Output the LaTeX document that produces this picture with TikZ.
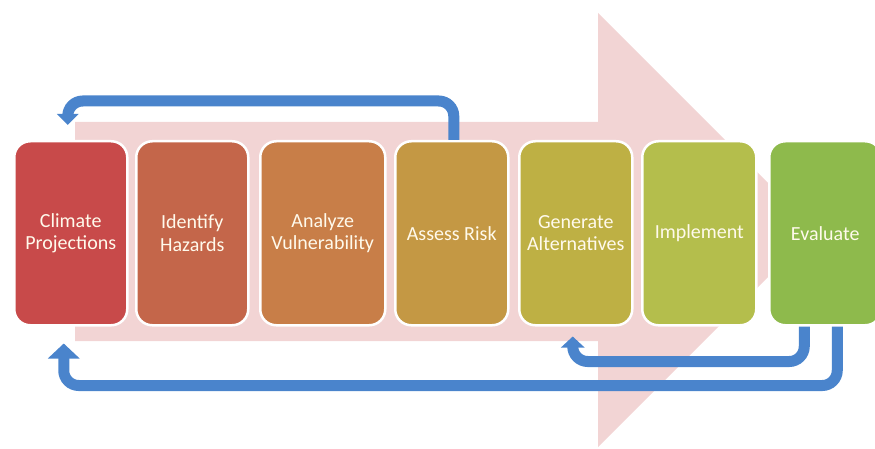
\documentclass[tikz,border=0pt]{standalone}
\usepackage{fontspec}
\setmainfont{Carlito}
\usetikzlibrary{arrows.meta}
\definecolor{pinkbg}{RGB}{242,212,212}
\definecolor{loopc}{RGB}{74,132,204}
\definecolor{textc}{RGB}{255,250,236}
\definecolor{c1}{RGB}{200,74,74}
\definecolor{c2}{RGB}{196,102,74}
\definecolor{c3}{RGB}{200,126,72}
\definecolor{c4}{RGB}{196,152,68}
\definecolor{c5}{RGB}{190,176,68}
\definecolor{c6}{RGB}{180,190,76}
\definecolor{c7}{RGB}{142,186,76}
\begin{document}
\begin{tikzpicture}[x=1pt,y=-1pt,
  stage/.style={draw=white, line width=2.5pt, rounded corners=16pt, anchor=north west,
    minimum height=184pt, text=textc, font=\fontsize{20}{22.5}\selectfont, align=center, inner sep=0pt},
  loop/.style={draw=loopc, line width=11pt, rounded corners=15pt}
]
\useasboundingbox (0,0) rectangle (875,449);
\fill[pinkbg] (75,122) -- (598,122) -- (598,13) -- (815,230) -- (598,447) -- (598,341) -- (75,341) -- cycle;
\node[stage, fill=c1, minimum width=113pt] (b1) at (13,140) {Climate\\Projections};
\node[stage, fill=c2, minimum width=112pt] (b2) at (135,140) {Identify\\Hazards};
\node[stage, fill=c3, minimum width=125pt] (b3) at (259,140) {Analyze\\Vulnerability};
\node[stage, fill=c4, minimum width=113pt] (b4) at (394,140) {Assess Risk};
\node[stage, fill=c5, minimum width=113pt] (b5) at (518,140) {Generate\\Alternatives};
\node[stage, fill=c6, minimum width=114pt] (b6) at (641,140) {Implement};
\node[stage, fill=c7, minimum width=112pt] (b7) at (768,140) {Evaluate};
\coordinate (t1) at ([xshift=-3pt,yshift=15pt]b1.north);
\coordinate (t2) at ([xshift=-7pt,yshift=-17pt]b1.south);
\coordinate (t3) at ([xshift=-3pt,yshift=-10pt]b5.south);
\draw[loop, -{Triangle[width=21pt,length=11pt]}] ([xshift=2pt]b4.north) -- ++(0,-39) -| (t1);
\draw[loop, -{Triangle[width=23pt,length=11pt]}] ([xshift=-21pt]b7.south) -- ++(0,35) -| (t3);
\draw[loop, -{Triangle[width=31pt,length=15pt]}] ([xshift=12pt]b7.south) -- ++(0,59) -| (t2);
\end{tikzpicture}
\end{document}
